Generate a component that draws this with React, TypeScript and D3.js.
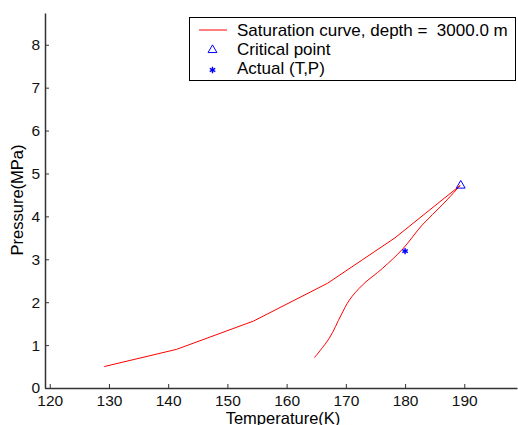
import React, { useEffect, useRef } from "react";
import * as d3 from "d3";

// upper branch of the saturation curve, up to the critical point
const upperT = [129.2, 141.4, 154.4, 166.9, 178.3, 189.3];
const upperP = [0.5, 0.9, 1.56, 2.44, 3.5, 4.72];
// lower branch, from the critical point back down
const lowerT = [189.3, 186.3, 182.9, 179.6, 176.2, 172.8, 170.6, 169.2, 167.2, 164.7];
const lowerP = [4.72, 4.27, 3.8, 3.24, 2.79, 2.4, 2.05, 1.7, 1.16, 0.71];

const criticalPoint = { t: 189.4, p: 4.73 };
const actualPoint = { t: 180.0, p: 3.19 };

const xTicks = [120, 130, 140, 150, 160, 170, 180, 190];
const yTicks = [0, 1, 2, 3, 4, 5, 6, 7, 8];

const legendLabels = ["Saturation curve, depth =  3000.0 m", "Critical point", "Actual (T,P)"];

const W = 518,
  H = 425;

export default function App() {
  const ref = useRef<SVGSVGElement>(null);

  useEffect(() => {
    document.body.style.margin = "0";
    const svg = d3.select(ref.current);
    svg.selectAll("*").remove();

    const x = d3.scaleLinear().domain([119.2, 198.9]).range([45, 517]);
    const y = d3.scaleLinear().domain([0, 8.74]).range([388, 13]);
    const font = "'Liberation Sans', Arial, sans-serif";

    // axes (only left and bottom, ticks pointing inward)
    const xAxis = svg
      .append("g")
      .attr("transform", `translate(0,${y(0)})`)
      .call(d3.axisBottom(x).tickValues(xTicks).tickSize(-4).tickPadding(10).tickSizeOuter(0));
    const yAxis = svg
      .append("g")
      .attr("transform", `translate(${x.range()[0]},0)`)
      .call(d3.axisLeft(y).tickValues(yTicks).tickSize(-4).tickPadding(5).tickSizeOuter(0));
    [xAxis, yAxis].forEach((g) => {
      g.select(".domain").attr("stroke", "#333").attr("stroke-width", 1.5);
      g.selectAll(".tick line").attr("stroke", "#333");
      g.selectAll(".tick text").attr("fill", "#111").style("font-family", font).style("font-size", "15.5px");
    });
    xAxis.selectAll(".tick text").attr("dy", "0.5em");

    // axis labels
    svg
      .append("text")
      .attr("x", 283)
      .attr("y", 424)
      .attr("text-anchor", "middle")
      .style("font-family", font)
      .style("font-size", "16.5px")
      .text("Temperature(K)");
    svg
      .append("text")
      .attr("transform", "rotate(-90)")
      .attr("x", -200)
      .attr("y", 23)
      .attr("text-anchor", "middle")
      .style("font-family", font)
      .style("font-size", "16.5px")
      .text("Pressure(MPa)");

    // saturation curve
    const upper: [number, number][] = upperT.map((t, i) => [t, upperP[i]]);
    const lower: [number, number][] = lowerT.map((t, i) => [t, lowerP[i]]);
    const line = d3.line<[number, number]>().x((d) => x(d[0])).y((d) => y(d[1]));
    svg
      .append("path")
      .datum(upper)
      .attr("fill", "none")
      .attr("stroke", "#ff0000")
      .attr("stroke-width", 1)
      .attr("d", line);
    svg
      .append("path")
      .datum(lower)
      .attr("fill", "none")
      .attr("stroke", "#ff0000")
      .attr("stroke-width", 1)
      .attr("d", line.curve(d3.curveCatmullRom));

    const triangle = d3.symbol().type(d3.symbolTriangle).size(34);
    const star = d3.symbol().type(d3.symbolAsterisk).size(28);

    svg
      .append("path")
      .attr("transform", `translate(${x(criticalPoint.t)},${y(criticalPoint.p) + 0.5})`)
      .attr("d", triangle()!)
      .attr("fill", "none")
      .attr("stroke", "#0000ff")
      .attr("stroke-width", 1);
    svg
      .append("path")
      .attr("transform", `translate(${x(actualPoint.t)},${y(actualPoint.p)})`)
      .attr("d", star()!)
      .attr("fill", "none")
      .attr("stroke", "#0000ff")
      .attr("stroke-width", 1.4);

    // legend
    const lg = svg.append("g");
    lg.append("rect")
      .attr("x", 189.5)
      .attr("y", 17.5)
      .attr("width", 326)
      .attr("height", 63)
      .attr("fill", "#fff")
      .attr("stroke", "#000")
      .attr("stroke-width", 1);
    const baselines = [36, 55, 74];
    legendLabels.forEach((label, i) => {
      lg.append("text")
        .attr("x", 237)
        .attr("y", baselines[i])
        .style("font-family", font)
        .style("font-size", "17px")
        .style("white-space", "pre")
        .text(label);
    });
    lg.append("line")
      .attr("x1", 199)
      .attr("x2", 227)
      .attr("y1", 30)
      .attr("y2", 30)
      .attr("stroke", "#ff0000")
      .attr("stroke-width", 1);
    lg.append("path")
      .attr("transform", "translate(212.5,50)")
      .attr("d", triangle()!)
      .attr("fill", "none")
      .attr("stroke", "#0000ff");
    lg.append("path")
      .attr("transform", "translate(212.5,70)")
      .attr("d", star()!)
      .attr("fill", "none")
      .attr("stroke", "#0000ff")
      .attr("stroke-width", 1.4);
  }, []);

  return <svg ref={ref} width={W} height={H} style={{ display: "block" }} />;
}
